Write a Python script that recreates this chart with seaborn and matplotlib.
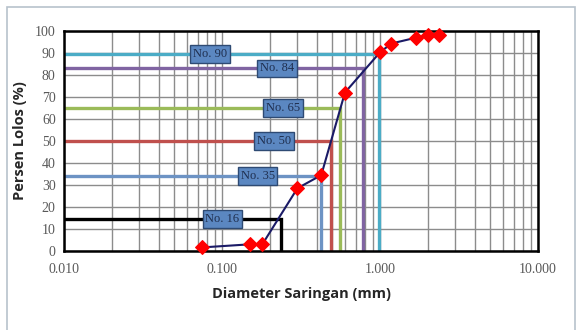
import matplotlib
matplotlib.use("Agg")
import matplotlib.pyplot as plt
import matplotlib.patches as mpatches
from matplotlib.ticker import FixedLocator, NullFormatter
import seaborn as sns
import pandas as pd
import numpy as np

# ---- data ----
diameter_mm = [0.075, 0.150, 0.180, 0.300, 0.425, 0.600, 1.000, 1.180, 1.700, 2.000, 2.360]
percent_passing = [1.5, 2.9, 2.9, 28.4, 34.4, 72.0, 90.3, 94.3, 97.0, 98.0, 98.4]

ref_names = ["No. 16", "No. 35", "No. 50", "No. 65", "No. 84", "No. 90"]
ref_percent = [14.5, 34.0, 50.0, 65.0, 83.0, 89.5]
ref_diameter = [0.236, 0.425, 0.49, 0.558, 0.777, 0.986]
ref_colors = ["#000000", "#6d93c4", "#c0504d", "#9bbb59", "#8064a2", "#4bacc6"]

x_ticks = [0.01, 0.1, 1.0, 10.0]
x_tick_labels = ["0.010", "0.100", "1.000", "10.000"]
y_ticks = list(range(0, 101, 10))

# label layout (x centre in data units)
label_x = [0.1007, 0.168, 0.213, 0.243, 0.223, 0.0839]

sns.set_theme(style="white")
plt.rcParams["font.family"] = ["DejaVu Sans"]

fig = plt.figure(figsize=(5.77, 3.30), dpi=100)
ax = fig.add_axes([64 / 577, 1 - 250.7 / 330, (538 - 64) / 577, (250.7 - 31) / 330])

# outer chart border
fig.patches.append(mpatches.Rectangle((7 / 577, -0.1), (575 - 7) / 577, (330 - 7) / 330 + 0.1,
                                      transform=fig.transFigure, fill=False,
                                      edgecolor="#b8c2cc", linewidth=1.2))

ax.set_xscale("log")
ax.set_xlim(0.01, 10)
ax.set_ylim(0, 100)

# grid
minor = [m * 10.0 ** e for e in (-2, -1, 0) for m in range(2, 10)]
ax.xaxis.set_minor_locator(FixedLocator(minor))
ax.xaxis.set_minor_formatter(NullFormatter())
ax.set_xticks(x_ticks)
ax.set_xticklabels(x_tick_labels)
ax.set_yticks(y_ticks)
ax.grid(True, which="both", axis="x", color="#8c8c8c", linewidth=1.0)
ax.grid(True, which="major", axis="y", color="#8c8c8c", linewidth=1.0)
ax.set_axisbelow(True)

# reference lines
for name, p, d, c, lx in zip(ref_names, ref_percent, ref_diameter, ref_colors, label_x):
    ax.plot([0.01, d, d], [p, p, 0], color=c, linewidth=2.4, solid_joinstyle="miter", zorder=2)
    ax.text(lx, p, name, ha="center", va="center", fontsize=9,
            family=["Liberation Serif", "DejaVu Serif"], color="#1f2f4f", zorder=5,
            bbox=dict(boxstyle="square,pad=0.22", facecolor="#5b87c1",
                      edgecolor="#2e4a73", linewidth=1.0))

# gradation curve
df = pd.DataFrame({"d": diameter_mm, "p": percent_passing})
sns.lineplot(data=df, x="d", y="p", ax=ax, color="#1a1a66", linewidth=1.5,
             marker="D", markersize=7, markerfacecolor="#ff0000",
             markeredgecolor="#ff0000", zorder=4, clip_on=False)

for s in ax.spines.values():
    s.set_visible(True)
    s.set_color("black")
    s.set_linewidth(1.8)

ax.tick_params(axis="both", which="both", length=0, colors="#595959", labelsize=10)
for lab in ax.get_xticklabels() + ax.get_yticklabels():
    lab.set_family(["Liberation Serif", "DejaVu Serif"])
ax.tick_params(axis="x", pad=9)
ax.tick_params(axis="y", pad=6)

ax.set_xlabel("Diameter Saringan (mm)", fontsize=10.5, fontweight="bold",
              family=["Open Sans", "DejaVu Sans"], color="#262626", labelpad=8)
ax.set_ylabel("Persen Lolos (%)", fontsize=10.5, fontweight="bold",
              family=["Open Sans", "DejaVu Sans"], color="#262626", labelpad=6)

fig.savefig("out.png", dpi=100)
